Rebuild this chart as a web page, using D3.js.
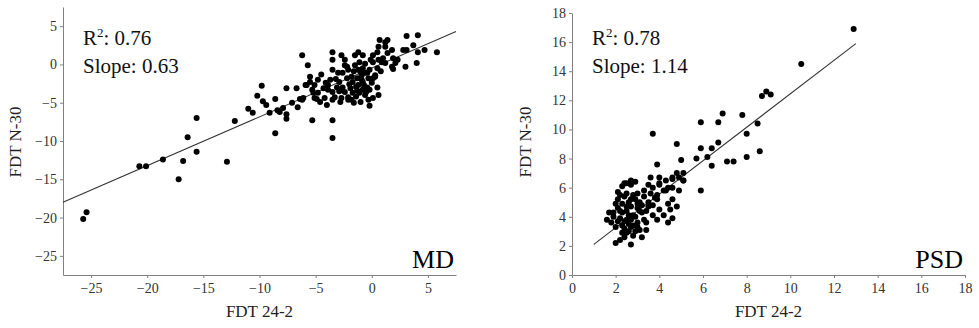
<!DOCTYPE html>
<html>
<head>
<meta charset="utf-8">
<title>FDT 24-2 vs FDT N-30</title>
<script src="https://cdn.jsdelivr.net/npm/d3@7"></script>
<style>
body{ margin:0; background:#fff; }
svg{ display:block; font-family:"Liberation Serif","Times New Roman",serif; }
.axis path, .axis line{ stroke:#808080; }
.axis text{ fill:#333; font-size:14px; font-family:"Liberation Serif",serif; }
</style>
</head>
<body>
<svg id="chart" width="979" height="328"></svg>
<script>
// MD panel, values
var mdPoints = [
  [-20.7,-13.3],[-20.1,-13.3],[-18.6,-12.4],[-16.8,-12.6],[-16.4,-9.5],[-15.6,-7.0],[-15.6,-11.4],
  [-12.9,-12.7],[-12.2,-7.4],[-11.0,-5.8],[-17.2,-15.0],[-25.7,-20.2],[-25.4,-19.3],
  [-10.6,-6.3],[-10.2,-4.1],[-9.8,-2.8],[-9.7,-4.8],[-9.1,-6.3],[-8.6,-4.5],[-8.4,-6.0],[-8.2,-6.2],
  [-7.9,-5.7],[-7.6,-3.1],[-7.6,-6.5],[-7.6,-7.1],[-8.6,-9.0],[-7.1,-5.0],[-6.7,-3.1],[-6.6,-5.6],
  [-6.2,-4.6],[-6.2,1.2],[-5.9,-2.7],[-5.7,-0.1],[-5.5,-1.6],[-5.5,-2.3],[-5.3,-3.3],[-5.3,-7.3],
  [-5.2,-3.7],[-5.1,-4.4],[-5.1,-2.7],[-4.8,-2.0],[-4.8,-3.7],[-4.9,-4.5],[-4.3,-3.1],[-4.2,-4.4],
  [-4.0,-5.3],[-3.9,-2.7],[-3.9,-3.3],[-3.7,-2.0],[-3.5,1.6],[-3.5,0.6],[-3.5,-0.7],[-3.5,-3.6],
  [-3.5,-4.6],[-3.5,-7.3],[-3.5,-9.6],[-3.3,-4.3],[-3.1,-3.0],[-3.0,-1.1],[-2.8,-4.9],[-2.7,1.2],
  [-2.4,0.6],[-2.2,-0.3],[-2.1,-4.3],[-2.4,-0.1],[-2.6,-1.1],[-2.2,-1.8],[-2.6,-3.0],[-2.7,-4.4],
  [-2.1,-4.6],[-1.8,-4.6],[-1.5,1.2],[-1.2,1.6],[-0.8,1.2],[-1.1,0.3],[-1.5,-0.1],[-1.2,-0.7],
  [-0.8,-0.5],[-0.9,-1.4],[-1.3,-1.8],[-1.7,-2.3],[-1.2,-2.7],[-0.8,-2.3],[-0.4,-1.1],[-0.3,-1.8],
  [-0.2,-0.7],[-0.4,-3.0],[-0.8,-3.3],[-1.1,-3.7],[-0.6,-4.0],[-0.2,-3.3],[0.0,-2.4],[0.1,-1.8],
  [0.3,-1.4],[0.5,-0.5],[0.1,0.3],[0.6,0.6],[0.9,0.3],[1.2,0.2],[1.0,0.8],[0.7,3.2],[1.4,3.2],
  [0.6,2.3],[1.2,2.3],[1.4,1.5],[1.8,1.9],[1.9,0.8],[2.3,0.6],[1.8,-0.3],[1.9,-0.6],[3.0,-0.3],
  [3.1,1.9],[3.1,3.7],[3.7,2.5],[4.1,3.8],[4.1,1.6],[4.7,1.9],[4.0,0.2],[5.8,1.6],[-1.0,-4.9],
  [-0.2,-5.4],[-0.3,-4.6],[-1.7,-3.7],[-1.9,-3.1],[-2.4,-3.6],[0.1,-4.4],[0.5,-3.0],[0.6,-4.0],
  [0.1,1.2],[0.5,1.6],[-1.8,-1.6],[-2.1,-0.7],[-0.6,-1.1],[-1.3,-3.4],[-0.9,-2.0],[0.3,-1.6],
  [2.1,0.2],[2.8,1.9],[1.2,2.9],[-6.4,-4.5],[-6.1,-4.4],[-5.8,-2.7],[-9.4,-5.3],[-4.5,-1.3],
  [-3.2,-1.9],[-4.6,-4.9],[-1.6,-5.0],[-2.9,-2.3],[-1.4,-2.9],[-0.7,-2.7],[-1.0,-1.0],[-1.6,-0.9],
  [-0.5,-3.6],[-1.4,-4.2],[-2.9,-3.5],[-4.1,-2.4],[-0.1,0.6],[0.8,-0.9],[-2.0,-2.6],[-0.6,0.1]
];
var mdFit = [[-27.5,-18.0],[7.5,4.3]];
var mdTicks = [-25,-20,-15,-10,-5,0,5];

// PSD panel
var psdPoints = [
  [3.7,9.7],[4.8,9.0],[5.0,7.9],[5.9,10.5],[5.9,8.7],[5.7,8.0],[6.2,8.1],[6.4,8.7],[6.4,7.5],
  [6.7,9.1],[6.7,10.5],[6.9,11.1],[7.1,7.8],[7.4,7.8],[7.8,11.0],[8.0,9.7],[8.0,8.1],[8.5,10.4],
  [8.6,8.5],[3.9,7.6],[3.6,6.7],[4.0,6.7],[4.6,6.6],[4.9,6.7],[5.1,6.5],[4.0,6.2],[3.3,5.8],
  [4.9,5.8],[5.9,5.8],[2.7,6.5],[2.5,6.3],[2.3,6.1],[4.3,5.8],[12.9,16.9],[10.5,14.5],[8.7,12.3],
  [8.9,12.6],[9.1,12.4],[3.9,5.5],[3.5,4.7],[3.9,5.2],[4.2,5.8],[4.4,6.0],[4.6,5.2],[4.8,4.7],
  [4.5,4.5],[4.4,4.9],[4.6,3.9],[4.4,3.6],[3.9,3.8],[3.7,4.1],[3.4,3.6],[3.2,4.3],[3.1,5.0],
  [3.0,5.6],[2.8,5.5],[2.7,6.2],[2.4,6.3],[2.5,5.6],[2.1,5.7],[2.1,5.2],[2.3,4.9],[2.0,4.9],
  [1.7,4.3],[1.9,4.0],[1.6,3.8],[1.8,3.6],[2.0,3.3],[2.2,3.9],[2.3,3.4],[2.5,3.8],[2.7,3.3],
  [2.8,4.1],[3.0,3.6],[3.1,3.1],[3.4,3.1],[3.2,2.6],[2.8,2.7],[2.6,3.0],[2.3,2.9],[2.2,2.4],
  [2.0,2.2],[2.7,2.1],[2.4,2.6],[2.5,4.7],[2.7,4.7],[3.0,4.6],[2.9,5.2],[3.3,5.4],[3.6,5.6],
  [3.7,6.0],[3.5,6.2],[2.9,6.4],[4.0,6.3],[4.3,6.5],[4.6,6.7],[4.8,7.0],[5.1,7.0],[5.1,6.5],
  [4.6,6.0],[4.0,4.5],[4.2,4.1],[3.7,4.8],[2.6,4.1],[2.1,4.6],[2.3,4.3],[2.7,5.2],[2.4,5.4],
  [2.2,5.5],[3.3,3.8],[3.0,3.3],[2.7,3.8],[2.5,4.4],[2.6,3.5],[2.9,4.0],[3.1,4.4],[2.4,3.2],
  [2.9,3.0],[3.5,5.0],[3.8,5.3],[2.2,4.4],[2.6,5.0],[3.2,4.8],[1.9,4.3],[2.4,3.7],[2.8,3.4],
  [2.1,3.7],[3.0,4.9],[2.5,2.9],[3.4,4.4]
];
var psdFit = [[1.0,2.1],[13.0,15.9]];
var psdTicks = [0,2,4,6,8,10,12,14,16,18];

var svg = d3.select("#chart");

function panel(opt){
    var x = d3.scaleLinear().domain(opt.xDomain).range([opt.left, opt.right]);
    var y = d3.scaleLinear().domain(opt.yDomain).range([opt.bottom, opt.top]);
    var g = svg.append("g");

    g.append("g").attr("class","axis")
        .attr("transform","translate(0," + opt.bottom + ")")
        .call(d3.axisBottom(x).tickValues(opt.ticks).tickSizeInner(3).tickSizeOuter(0).tickPadding(5));
    g.append("g").attr("class","axis")
        .attr("transform","translate(" + opt.left + ",0)")
        .call(d3.axisLeft(y).tickValues(opt.ticks).tickSizeInner(3).tickSizeOuter(0).tickPadding(3));

    var line = d3.line().x(function(d){ return x(d[0]); }).y(function(d){ return y(d[1]); });
    g.append("path").datum(opt.fit).attr("d", line)
        .attr("fill","none").attr("stroke","#333").attr("stroke-width",1.1);

    g.selectAll("circle").data(opt.points).enter().append("circle")
        .attr("cx", function(d){ return x(d[0]); })
        .attr("cy", function(d){ return y(d[1]); })
        .attr("r", 3).attr("fill","#000");

    var t = g.append("text").attr("x", opt.left + 20).attr("y", 45)
        .attr("font-size", 21).attr("fill","#111");
    t.append("tspan").text("R");
    t.append("tspan").attr("dy",-8).attr("font-size",13).text("2");
    t.append("tspan").attr("dy",8).text(": " + opt.r2);
    g.append("text").attr("x", opt.left + 20).attr("y", 73)
        .attr("font-size", 21).attr("fill","#111").text("Slope: " + opt.slope);

    g.append("text").attr("x", opt.right - 2).attr("y", 268)
        .attr("text-anchor","end").attr("font-size", 26).attr("fill","#000").text(opt.name);

    g.append("text").attr("x", (opt.left + opt.right) / 2 + opt.xLabelShift).attr("y", 317)
        .attr("text-anchor","middle").attr("font-size", 17).attr("fill","#222").text("FDT 24-2");
    g.append("text").attr("transform","translate(" + opt.yLabelX + ",142) rotate(-90)")
        .attr("text-anchor","middle").attr("font-size", 17).attr("fill","#222").text("FDT N-30");
}

panel({ points: mdPoints, fit: mdFit, ticks: mdTicks, xDomain: [-27.5,7.5], yDomain: [-27.5,7.5],
        left: 63, right: 456, top: 7, bottom: 275, r2: "0.76", slope: "0.63", name: "MD",
        xLabelShift: 0, yLabelX: 21 });
panel({ points: psdPoints, fit: psdFit, ticks: psdTicks, xDomain: [0,18], yDomain: [0,18],
        left: 572, right: 965, top: 13, bottom: 275, r2: "0.78", slope: "1.14", name: "PSD",
        xLabelShift: 0, yLabelX: 531 });
</script>
</body>
</html>
